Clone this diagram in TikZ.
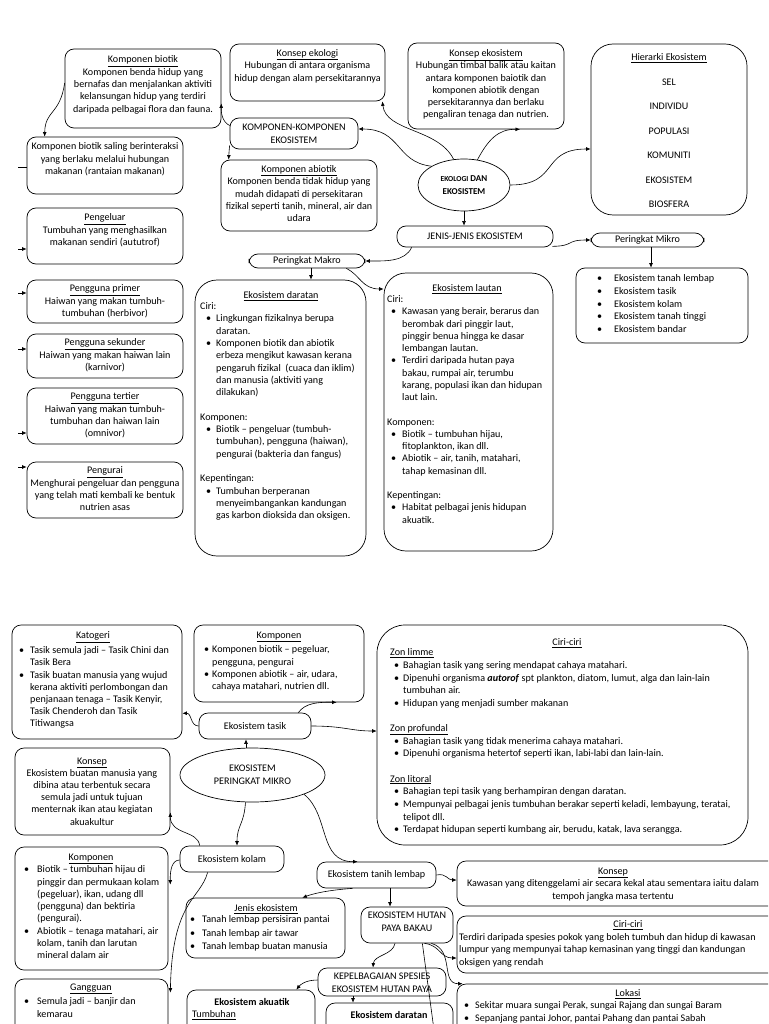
\documentclass[tikz,border=0pt]{standalone}
\usepackage{fontspec}
\setmainfont{Carlito}
\usetikzlibrary{shapes.geometric,arrows.meta,calc}
\newcommand\fsz{\fontsize{10.1}{12.4}\selectfont}
\newcommand\fszb[1]{\fontsize{10.1}{#1}\selectfont}
\newcommand\Bul[2]{\hspace*{#1pt}\makebox[#2pt][l]{•}}
\newcommand\Ind[1]{\hspace*{#1pt}}
\newcommand\bx[6][]{\node[box,#1,minimum width={#4-#2},minimum height={#5-#3}] (#6) at ({(#2+#4)/2},{(#3+#5)/2}) {};}
\newcommand\bxt[7][]{\node[box,#1,minimum width={#4-#2},minimum height={#5-#3}] (#6) at ({(#2+#4)/2},{(#3+#5)/2}) {#7};}
\begin{document}
\begin{tikzpicture}[x=1pt,y=-1pt,
 box/.style={draw, line width=0.7pt, rounded corners=9pt, inner sep=0, align=center, font=\fsz},
 bigbox/.style={rounded corners=22pt},
 txt/.style={inner sep=0, align=center, font=\fsz},
 ltxt/.style={inner sep=0, align=left, font=\fsz},
 arr/.style={-{Latex[length=4.5pt,width=3.8pt]}, line width=0.6pt},
 ln/.style={line width=0.6pt}]
\useasboundingbox (0,0) rectangle (768,1024);
\clip (0,0) rectangle (768,1024);
\fill[white] (0,0) rectangle (768,1024);

% ================= TOP =================
\bx{65}{49}{221}{128}{kb}
\node[txt,anchor=north] (kbt) at (143,55.5) {\underline{Komponen biotik}\\Komponen benda hidup yang\\bernafas dan menjalankan aktiviti\\kelansungan hidup yang terdiri\\daripada pelbagai flora dan fauna.};

\bx{230}{44}{385}{101}{kek}
\node[txt,anchor=north] (kekt) at (307.5,49) {\underline{Konsep ekologi}\\Hubungan di antara organisma\\hidup dengan alam persekitarannya};

\bx{408}{43}{564}{129}{kes}
\node[txt,anchor=north,font={\fszb{12.2}}] (kest) at (486,49.5) {\underline{Konsep ekosistem}\\Hubungan timbal balik atau kaitan\\antara komponen baiotik dan\\komponen abiotik dengan\\persekitarannya dan berlaku\\pengaliran tenaga dan nutrien.};

\bx[bigbox]{591}{44}{747}{215}{hier}
\node[txt,anchor=north,font={\fszb{24.5}}] (hiert) at (669,53.5) {\underline{Hierarki Ekosistem}\\SEL\\INDIVIDU\\POPULASI\\KOMUNITI\\EKOSISTEM\\BIOSFERA};

\bx{230}{118}{358}{149}{kk}
\node[txt,anchor=north] (kkt) at (294,124) {KOMPONEN-KOMPONEN\\EKOSISTEM};

\bx{221}{160}{377}{231}{kab}
\node[txt,anchor=north] (kabt) at (299,165) {\underline{Komponen abiotik}\\Komponen benda tidak hidup yang\\mudah didapati di persekitaran\\fizikal seperti tanih, mineral, air dan\\udara};

\node[draw,ellipse,line width=0.7pt,minimum width=92,minimum height=52,inner sep=0,align=center,font={\bfseries\fontsize{9}{12.5}\selectfont}] (eko) at (464,185) {{\fontsize{7.6}{12.5}\selectfont EKOLOGI} DAN\\EKOSISTEM};

\bxt{397}{226}{553}{247}{jen}{JENIS-JENIS EKOSISTEM}
\bxt{591}{233}{704}{247}{mikro}{Peringkat Mikro}
\bxt{249}{254}{365}{268}{makro}{Peringkat Makro}

\bx{576}{268}{748}{343}{mlist}
\node[ltxt,anchor=north west,font={\fszb{12.75}}] (mlistt) at (597,274.5) {\Bul{0}{17}Ekosistem tanah lembap\\\Bul{0}{17}Ekosistem tasik\\\Bul{0}{17}Ekosistem kolam\\\Bul{0}{17}Ekosistem tanah tinggi\\\Bul{0}{17}Ekosistem bandar};

\bx[bigbox]{195}{280}{366}{556}{dar}
\node[txt,anchor=north] (dart) at (281,291.5) {\underline{Ekosistem daratan}};
\node[ltxt,anchor=north west,font={\fszb{12.3}}] (darl) at (200,302.5) {Ciri:\\
\Bul{6}{10}Lingkungan fizikalnya berupa\\
\Ind{16}daratan.\\
\Bul{6}{10}Komponen biotik dan abiotik\\
\Ind{16}erbeza mengikut kawasan kerana\\
\Ind{16}pengaruh fizikal\ \ (cuaca dan iklim)\\
\Ind{16}dan manusia (aktiviti yang\\
\Ind{16}dilakukan)\\[12.3pt]
Komponen:\\
\Bul{6}{10}Biotik – pengeluar (tumbuh-\\
\Ind{16}tumbuhan), pengguna (haiwan),\\
\Ind{16}pengurai (bakteria dan fangus)\\[12.3pt]
Kepentingan:\\
\Bul{6}{10}Tumbuhan berperanan\\
\Ind{16}menyeimbangankan kandungan\\
\Ind{16}gas karbon dioksida dan oksigen.};

\bx[bigbox]{384}{273}{553}{551}{lau}
\node[txt,anchor=north] (laut) at (467,284.5) {\underline{Ekosistem lautan}};
\node[ltxt,anchor=north west,font={\fszb{12.25}}] (laul) at (387,295.5) {Ciri:\\
\Bul{4}{11}Kawasan yang berair, berarus dan\\
\Ind{15}berombak dari pinggir laut,\\
\Ind{15}pinggir benua hingga ke dasar\\
\Ind{15}lembangan lautan.\\
\Bul{4}{11}Terdiri daripada hutan paya\\
\Ind{15}bakau, rumpai air, terumbu\\
\Ind{15}karang, populasi ikan dan hidupan\\
\Ind{15}laut lain.\\[12.25pt]
Komponen:\\
\Bul{4}{11}Biotik – tumbuhan hijau,\\
\Ind{15}fitoplankton, ikan dll.\\
\Bul{4}{11}Abiotik – air, tanih, matahari,\\
\Ind{15}tahap kemasinan dll.\\[12.25pt]
Kepentingan:\\
\Bul{4}{11}Habitat pelbagai jenis hidupan\\
\Ind{15}akuatik.};

% left column
\bx{27}{137}{183}{194}{bint}
\node[txt,anchor=north] (bintt) at (105,142.5) {Komponen biotik saling berinteraksi\\yang berlaku melalui hubungan\\makanan (rantaian makanan)};
\bx{27}{208}{183}{264}{peng}
\node[txt,anchor=north] (pengt) at (105,213.5) {\underline{Pengeluar}\\Tumbuhan yang menghasilkan\\makanan sendiri (aututrof)};
\bx{27}{280}{183}{323}{pp}
\node[txt,anchor=north] (ppt) at (105,284.5) {\underline{Pengguna primer}\\Haiwan yang makan tumbuh-\\tumbuhan (herbivor)};
\bx{27}{334}{183}{378}{ps}
\node[txt,anchor=north] (pst) at (105,338.5) {\underline{Pengguna sekunder}\\Haiwan yang makan haiwan lain\\(karnivor)};
\bx{27}{388}{183}{444}{pt}
\node[txt,anchor=north] (ptt) at (105,392.5) {\underline{Pengguna tertier}\\Haiwan yang makan tumbuh-\\tumbuhan dan haiwan lain\\(omnivor)};
\bx{27}{462}{183}{518}{pu}
\node[txt,anchor=north] (put) at (105,466.5) {\underline{Pengurai}\\Menghurai pengeluar dan pengguna\\yang telah mati kembali ke bentuk\\nutrien asas};

\coordinate (s0) at (18,167);
\coordinate (s1) at (18,249);
\coordinate (s2) at (18,293);
\coordinate (s3) at (18,349);
\coordinate (s4) at (18,433);
\coordinate (s5) at (18,467);
\draw[ln] (s0) -- (s0 -| bint.west);
\draw[arr] (s1) -- (s1 -| peng.west);
\draw[arr] (s2) -- (s2 -| pp.west);
\draw[arr] (s3) -- (s3 -| ps.west);
\draw[arr] (s4) -- (s4 -| pt.west);
\draw[arr] (s5) -- (s5 -| pu.west);

% top connectors
\draw[arr] ($(kb.west)+(0,-5.5)$) .. controls (60,115) and (45,110) .. ($(bint.north west)+(18,0)$);
\draw[arr] ($(kk.west)+(0,-8)$) .. controls (222,122) and (221,112) .. ($(kb.south east)+(0,-25)$);
\draw[arr] ($(kk.south west)+(0,-4)$) .. controls (229,152) .. ($(kab.north west)+(8,0)$);
\draw[arr] (eko.150) .. controls (395,162) and (402,129) .. ($(kk.east)+(0,-4.5)$);
\draw[arr] (eko.112) .. controls (438,128) and (386,132) .. ($(kek.south east)+(-3,0)$);
\draw[arr] (eko.62) .. controls (488,140) and (498,129) .. ($(kes.south)+(34,0)$);
\draw[arr] (eko.east) .. controls (560,185) and (540,149) .. ($(hier.west)+(0,19.5)$);
\draw[arr] (eko.south) -- (eko.south |- jen.north);
\draw[arr] ($(jen.south east)+(-1,-1)$) .. controls (575,246) and (565,240) .. (mikro.west);
\draw[arr] ($(jen.south west)+(15,0)$) .. controls (405,262) and (385,261) .. (makro.east);
\draw[arr] ($(mikro.south)+(3.5,0)$) -- ($(mlist.north)+(-11,0)$);
\draw[arr] ($(makro.south)+(4,0)$) -- ($(dar.north)+(30.5,0)$);
\draw[arr] ($(makro.south east)+(-19,0)$) .. controls (360,275) and (362,289) .. ($(lau.west)+(0,-123)$);

% ================= BOTTOM =================
\bx{12}{625}{182}{739}{kat}
\node[txt,anchor=north] (katt) at (93,631.5) {\underline{Katogeri}};
\node[ltxt,anchor=north west,font={\fszb{12.2}}] (katl) at (19,646.5) {\Bul{0}{11}Tasik semula jadi – Tasik Chini dan\\\Ind{11}Tasik Bera\\\Bul{0}{11}Tasik buatan manusia yang wujud\\\Ind{11}kerana aktiviti perlombongan dan\\\Ind{11}penjanaan tenaga – Tasik Kenyir,\\\Ind{11}Tasik Chenderoh dan Tasik\\\Ind{11}Titiwangsa};

\bx{194}{625}{364}{702}{komp}
\node[txt,anchor=north] (kompt) at (279,631.5) {\underline{Komponen}};
\node[ltxt,anchor=north west,font={\fszb{12.3}}] (kompl) at (204,645.5) {\Bul{0}{8}Komponen biotik – pegeluar,\\\Ind{8}pengguna, pengurai\\\Bul{0}{8}Komponen abiotik – air, udara,\\\Ind{8}cahaya matahari, nutrien dll.};

\bxt{199}{713}{311}{739}{tasik}{Ekosistem tasik}

\node[draw,ellipse,line width=0.7pt,minimum width=145,minimum height=54,inner sep=0,align=center,font={\fszb{13}}] (pmik) at (252.5,775) {EKOSISTEM\\PERINGKAT MIKRO};

\bx[rounded corners=28pt]{377}{625}{748}{845}{ciri}
\node[txt,anchor=north] (cirit) at (567,638.5) {\underline{Ciri-ciri}};
\node[ltxt,anchor=north west,font={\fszb{12.64}}] (ciril) at (390,648.5) {\underline{Zon limme}\\
\Bul{4}{9}Bahagian tasik yang sering mendapat cahaya matahari.\\
\Bul{4}{9}Dipenuhi organisma \textbf{\textit{autorof}} spt plankton, diatom, lumut, alga dan lain-lain\\
\Ind{13}tumbuhan air.\\
\Bul{4}{9}Hidupan yang menjadi sumber makanan\\[12.64pt]
\underline{Zon profundal}\\
\Bul{4}{9}Bahagian tasik yang tidak menerima cahaya matahari.\\
\Bul{4}{9}Dipenuhi organisma hetertof seperti ikan, labi-labi dan lain-lain.\\[12.64pt]
\underline{Zon litoral}\\
\Bul{4}{9}Bahagian tepi tasik yang berhampiran dengan daratan.\\
\Bul{4}{9}Mempunyai pelbagai jenis tumbuhan berakar seperti keladi, lembayung, teratai,\\
\Ind{13}telipot dll.\\
\Bul{4}{9}Terdapat hidupan seperti kumbang air, berudu, katak, lava serangga.};

\bx{15}{748}{170}{835}{kons}
\node[txt,anchor=north,font={\fszb{12.2}}] (konst) at (92,757.5) {\underline{Konsep}\\Ekosistem buatan manusia yang\\dibina atau terbentuk secara\\semula jadi untuk tujuan\\menternak ikan atau kegiatan\\akuakultur};

\bxt{180}{846}{284}{872}{kolam}{Ekosistem kolam}

\bx{15}{847}{168}{970}{kkom}
\node[txt,anchor=north] (kkomt) at (91,853.5) {\underline{Komponen}};
\node[ltxt,anchor=north west,font={\fszb{12.3}}] (kkoml) at (24,865.5) {\Bul{0}{13}Biotik – tumbuhan hijau di\\\Ind{13}pinggir dan permukaan kolam\\\Ind{13}(pegeluar), ikan, udang dll\\\Ind{13}(pengguna) dan bektiria\\\Ind{13}(pengurai).\\\Bul{0}{13}Abiotik – tenaga matahari, air\\\Ind{13}kolam, tanih dan larutan\\\Ind{13}mineral dalam air};

\bx{15}{979}{168}{1045}{gang}
\node[txt,anchor=north] (gangt) at (91,983.5) {\underline{Gangguan}};
\node[ltxt,anchor=north west,font={\fszb{12.3}}] (gangl) at (24,997.5) {\Bul{0}{13}Semula jadi – banjir dan\\\Ind{13}kemarau};

\bxt{317}{862}{436}{888}{tanih}{Ekosistem tanih lembap}

\bx{457}{861}{790}{906}{ktan}
\node[txt,anchor=north,font={\fszb{12.5}}] (ktant) at (613,867.5) {\underline{Konsep}\\Kawasan yang ditenggelami air secara kekal atau sementara iaitu dalam\\tempoh jangka masa tertentu};

\bx{457}{916}{790}{973}{chut}
\node[txt,anchor=north] (chutt) at (628,920.5) {\underline{Ciri-ciri}};
\node[ltxt,anchor=north west,font={\fszb{12.2}}] (chutl) at (459,933.5) {Terdiri daripada spesies pokok yang boleh tumbuh dan hidup di kawasan\\lumpur yang mempunyai tahap kemasinan yang tinggi dan kandungan\\oksigen yang rendah};

\bx{457}{984}{790}{1045}{lok}
\node[txt,anchor=north] (lokt) at (628,989.5) {\underline{Lokasi}};
\node[ltxt,anchor=north west,font={\fszb{12.4}}] (lokl) at (464,1001.5) {\Bul{0}{11}Sekitar muara sungai Perak, sungai Rajang dan sungai Baram\\\Bul{0}{11}Sepanjang pantai Johor, pantai Pahang dan pantai Sabah};

\bx{186}{898}{345}{958}{jek}
\node[txt,anchor=north] (jekt) at (266,904.5) {\underline{Jenis ekosistem}};
\node[ltxt,anchor=north west,font={\fszb{13.4}}] (jekl) at (190,915.5) {\Bul{0}{12}Tanah lembap persisiran pantai\\\Bul{0}{12}Tanah lembap air tawar\\\Bul{0}{12}Tanah lembap buatan manusia};

\bx{361}{907}{453}{943}{hut}
\node[txt,anchor=north,font={\fszb{13.5}}] (hutt) at (407,911.4) {EKOSISTEM HUTAN\\PAYA BAKAU};

\bx{318}{968}{446}{996}{kep}
\node[txt,anchor=north] (kept) at (382,973) {KEPELBAGAIAN SPESIES\\EKOSISTEM HUTAN PAYA};

\bx{187}{990}{315}{1045}{aku}
\node[txt,anchor=north] (akut) at (252,998.5) {\textbf{Ekosistem akuatik}};
\node[ltxt,anchor=north west] (akul) at (192,1010.5) {\underline{Tumbuhan}};

\bx{326}{1003}{453}{1045}{edar}
\node[txt,anchor=north] (edart) at (389,1011.5) {\textbf{Ekosistem daratan}};

% bottom connectors
\draw[arr] (tasik.west) .. controls (190,726) and (192,713) .. ($(kat.south east)+(0,-26)$);
\draw[arr] ($(tasik.north east)+(-13,0)$) .. controls (305,703) and (318,702) .. ($(komp.south west)+(143,0)$);
\draw[arr] (tasik.east) .. controls (345,726) and (350,731) .. ($(ciri.west)+(0,-4)$);
\draw[arr] ($(pmik.north)+(-6.5,0)$) -- ($(tasik.south)+(-9,0)$);
\draw[arr] ($(pmik.south)+(-7,0)$) .. controls (244,825) and (237,825) .. ($(kolam.north)+(5,0)$);
\draw[arr] (pmik.south east) .. controls (330,815) and (318,862) .. ($(tanih.north west)+(41,0)$);
\draw[arr] ($(kolam.north west)+(20,0)$) .. controls (198,830) and (170,835) .. ($(kons.south east)+(0,-23)$);
\draw[arr] ($(kolam.west)+(0,1)$) .. controls (172,860) and (170,870) .. ($(kkom.north east)+(2,38)$);
\draw[arr] ($(kolam.south west)+(28,0)$) .. controls (200,900) and (172,900) .. ($(gang.north east)+(2,14)$);
\draw[arr] (tanih.east) .. controls (447,873) and (447,880) .. ($(ktan.west)+(0,-3.5)$);
\draw[arr] ($(tanih.south west)+(36,0)$) .. controls (330,890) and (315,893) .. ($(jek.north east)+(-43,0)$);
\draw[arr] ($(tanih.south)+(13.5,0)$) -- ($(hut.north)+(-17,0)$);
\draw[arr] ($(hut.south)+(-12,0)$) .. controls (393,955) and (374,955) .. ($(kep.north)+(-9,0)$);
\draw[arr] ($(hut.south east)+(-29,0)$) .. controls (440,945) and (440,958) .. ($(chut.west)+(0,13.5)$);
\draw[arr] ($(hut.south east)+(-22,0)$) .. controls (455,950) and (440,984) .. ($(lok.north west)+(6,0)$);
\coordinate (hd) at (434,1030);
\draw[ln] ($(hut.south east)+(-31,0)$) -- (hd);
\draw[arr] ($(kep.west)+(0,-2)$) .. controls (305,980) and (300,985) .. ($(aku.north east)+(-19,0)$);
\draw[arr] ($(kep.south)+(-29,0)$) -- ($(edar.north)+(-36.5,0)$);
\end{tikzpicture}
\end{document}
